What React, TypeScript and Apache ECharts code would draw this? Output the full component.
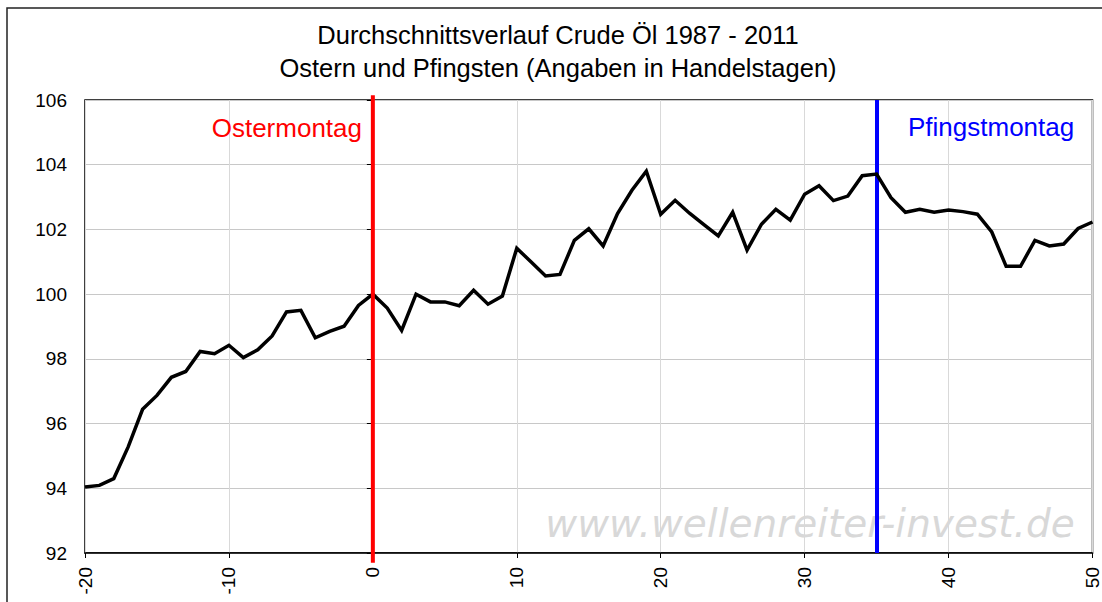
import React, { useEffect, useRef } from "react";
import * as echarts from "echarts";

const titleLines = ["Durchschnittsverlauf Crude Öl 1987 - 2011", "Ostern und Pfingsten (Angaben in Handelstagen)"];

const days = [
  -20, -19, -18, -17, -16, -15, -14, -13, -12, -11, -10, -9, -8, -7, -6, -5, -4, -3, -2, -1,
  0, 1, 2, 3, 4, 5, 6, 7, 8, 9, 10, 11, 12, 13, 14, 15, 16, 17, 18, 19,
  20, 21, 22, 23, 24, 25, 26, 27, 28, 29, 30, 31, 32, 33, 34, 35, 36, 37, 38, 39,
  40, 41, 42, 43, 44, 45, 46, 47, 48, 49, 50,
];

const values = [
  94.04, 94.09, 94.3, 95.28, 96.44, 96.87, 97.43, 97.61, 98.23, 98.16, 98.42, 98.04, 98.28, 98.71, 99.45, 99.5, 98.65, 98.85, 99.01, 99.65,
  100.0, 99.57, 98.88, 100.0, 99.76, 99.76, 99.64, 100.12, 99.69, 99.94, 101.42, 100.99, 100.56, 100.61, 101.66, 102.02, 101.49, 102.49, 103.21, 103.8,
  102.47, 102.9, 102.5, 102.15, 101.8, 102.53, 101.36, 102.16, 102.62, 102.29, 103.09, 103.35, 102.89, 103.03, 103.66, 103.71, 102.98, 102.53, 102.62, 102.53,
  102.6, 102.55, 102.47, 101.92, 100.86, 100.86, 101.66, 101.49, 101.55, 102.03, 102.23,
];

const easterDay = 0;
const easterSpan = [91.7, 106.15];
const pentecostDay = 35;
const easterLabel = "Ostermontag";
const pentecostLabel = "Pfingstmontag";
const watermark = "www.wellenreiter-invest.de";

const xMin = -20;
const xMax = 50;
const xStep = 10;
const yMin = 92;
const yMax = 106;
const yStep = 2;

export default function App() {
  const ref = useRef<HTMLDivElement>(null);
  useEffect(() => {
    if (!ref.current) return;
    const chart = echarts.init(ref.current, null, { renderer: "svg" });
    const font = "Arial, 'Liberation Sans', sans-serif";
    chart.setOption({
      animation: false,
      backgroundColor: "#ffffff",
      textStyle: { fontFamily: font },
      title: {
        text: titleLines.join("\n"),
        left: 553,
        top: 13,
        textAlign: "center",
        textStyle: { fontSize: 25.5, fontWeight: "normal", color: "#000", lineHeight: 33, fontFamily: font },
      },
      grid: {
        left: 85,
        top: 100,
        right: 4,
        bottom: 49,
        show: true,
        borderColor: "#000",
        borderWidth: 1.5,
        backgroundColor: "#fff",
      },
      xAxis: {
        type: "value",
        min: xMin,
        max: xMax,
        interval: xStep,
        axisLine: { show: true, onZero: false, lineStyle: { color: "#000", width: 1.5 } },
        axisTick: { show: true, length: 5, lineStyle: { color: "#000" } },
        axisLabel: { rotate: 90, margin: 14, fontSize: 19, color: "#000", fontFamily: font },
        splitLine: { show: true, lineStyle: { color: "#d9d9d9", width: 1 } },
      },
      yAxis: {
        type: "value",
        min: yMin,
        max: yMax,
        interval: yStep,
        axisLine: { show: true, lineStyle: { color: "#000", width: 1.5 } },
        axisTick: { show: true, length: 6, lineStyle: { color: "#000" } },
        axisLabel: { margin: 18, fontSize: 19, color: "#000", fontFamily: font },
        splitLine: { show: true, lineStyle: { color: "#c8c8c8", width: 1 } },
      },
      graphic: [
        {
          type: "rect",
          shape: { x: 7, y: 8, width: 1200, height: 700 },
          style: { fill: "none", stroke: "#222", lineWidth: 1.5 },
          z: 100,
        },
        {
          type: "text",
          x: 810,
          y: 523,
          style: {
            text: watermark,
            fill: "#d8d8d8",
            font: "italic 39px 'DejaVu Sans', Verdana, sans-serif",
            align: "center",
            verticalAlign: "middle",
          },
          z: 1,
        },
        {
          type: "text",
          x: 362,
          y: 128,
          style: { text: easterLabel, fill: "#ff0000", font: `26px ${font}`, align: "right", verticalAlign: "middle" },
          z: 50,
        },
        {
          type: "text",
          x: 908,
          y: 127,
          style: { text: pentecostLabel, fill: "#0000ff", font: `26px ${font}`, align: "left", verticalAlign: "middle" },
          z: 50,
        },
      ],
      series: [
        {
          type: "line",
          data: days.map((d, i) => [d, values[i]]),
          showSymbol: false,
          symbol: "none",
          lineStyle: { color: "#000", width: 3.5, join: "miter" },
          z: 5,
          markLine: {
            silent: true,
            symbol: ["none", "none"],
            label: { show: false },
            data: [
              { xAxis: pentecostDay, lineStyle: { color: "#0000ff", width: 4, type: "solid" } },
            ],
          },
        },
        {
          type: "line",
          data: easterSpan.map((v) => [easterDay, v]),
          clip: false,
          showSymbol: false,
          symbol: "none",
          silent: true,
          lineStyle: { color: "#ff0000", width: 4 },
          z: 6,
        },
      ],
    });
    return () => chart.dispose();
  }, []);
  return <div ref={ref} style={{ position: "absolute", left: 0, top: 0, width: 1102, height: 602 }} />;
}
